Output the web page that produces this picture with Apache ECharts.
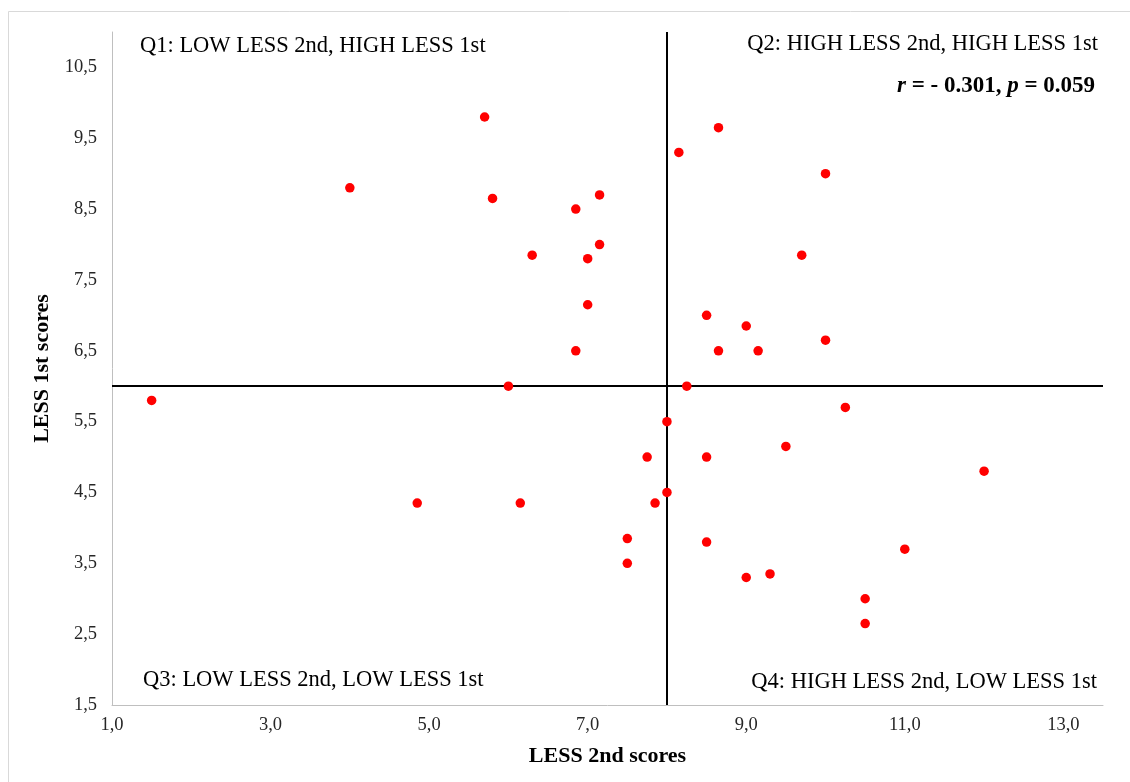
<!DOCTYPE html>
<html>
<head>
<meta charset="utf-8">
<script src="https://cdn.jsdelivr.net/npm/echarts@6/dist/echarts.min.js"></script>
<style>
html,body{margin:0;padding:0;background:#fff;}
#chart{width:1130px;height:782px;}
</style>
</head>
<body>
<div id="chart"></div>
<script>
// LESS 2nd scores (x) and LESS 1st scores (y)
var less2nd = [1.5, 4.0, 4.85, 5.7, 5.8, 6.0, 6.15, 6.3, 6.85, 6.85, 7.0, 7.0, 7.15, 7.15,
  7.5, 7.5, 7.75, 7.85, 8.0, 8.0, 8.15, 8.25, 8.5, 8.5, 8.5, 8.65, 8.65, 9.0, 9.0, 9.15,
  9.3, 9.5, 9.7, 10.0, 10.0, 10.25, 10.5, 10.5, 11.0, 12.0];
var less1st = [5.8, 8.8, 4.35, 9.8, 8.65, 6.0, 4.35, 7.85, 8.5, 6.5, 7.8, 7.15, 8.7, 8.0,
  3.85, 3.5, 5.0, 4.35, 5.5, 4.5, 9.3, 6.0, 7.0, 5.0, 3.8, 9.65, 6.5, 6.85, 3.3, 6.5,
  3.35, 5.15, 7.85, 9.0, 6.65, 5.7, 3.0, 2.65, 3.7, 4.8];
var xMedian = 8.0;
var yMedian = 6.0;
var quadrantLabels = [
  'Q1: LOW LESS 2nd, HIGH LESS 1st',
  'Q2: HIGH LESS 2nd, HIGH LESS 1st',
  'Q3: LOW LESS 2nd, LOW LESS 1st',
  'Q4: HIGH LESS 2nd, LOW LESS 1st'
];
var xName = 'LESS 2nd scores';
var yName = 'LESS 1st scores';

var points = less2nd.map(function (x, i) { return [x, less1st[i]]; });
function fmt(v) { return v.toFixed(1).replace('.', ','); }
var serif = '"Liberation Serif", "Times New Roman", serif';

var chart = echarts.init(document.getElementById('chart'), null, {renderer: 'canvas'});
var option = {
  animation: false,
  backgroundColor: '#fff',
  textStyle: {fontFamily: serif},
  grid: {left: 112, right: 27, top: 32, bottom: 77},
  xAxis: {
    type: 'value', min: 1, max: 13.5, interval: 1,
    name: xName, nameLocation: 'middle', nameGap: 40,
    nameTextStyle: {fontFamily: serif, fontWeight: 'bold', fontSize: 22, color: '#000'},
    axisLine: {show: true, lineStyle: {color: '#bfbfbf', width: 1}},
    axisTick: {show: false},
    splitLine: {show: false},
    axisLabel: {
      fontFamily: serif, fontSize: 18.5, color: '#262626', margin: 11,
      formatter: function (v) {
        var r = Math.round(v * 100) / 100;
        return (Math.abs(r - Math.round(r)) < 1e-6 && Math.round(r) % 2 === 1) ? fmt(r) : '';
      }
    }
  },
  yAxis: {
    type: 'value', min: 1.5, max: 11, interval: 0.5,
    name: yName, nameLocation: 'middle', nameGap: 53, nameRotate: 90,
    nameTextStyle: {fontFamily: serif, fontWeight: 'bold', fontSize: 22, color: '#000'},
    axisLine: {show: true, lineStyle: {color: '#bfbfbf', width: 1}},
    axisTick: {show: false},
    splitLine: {show: false},
    axisLabel: {
      fontFamily: serif, fontSize: 18.5, color: '#262626', margin: 15,
      formatter: function (v) {
        var d = Math.round((v - 1.5) * 100) / 100;
        return (Math.abs(d - Math.round(d)) < 1e-6 && v < 10.9) ? fmt(v) : '';
      }
    }
  },
  series: [{
    type: 'scatter',
    data: points,
    symbolSize: 9.5,
    itemStyle: {color: '#ff0000', opacity: 1},
    z: 5,
    markLine: {
      silent: true,
      symbol: 'none',
      label: {show: false},
      lineStyle: {color: '#000', width: 2, type: 'solid'},
      data: [{xAxis: xMedian}, {yAxis: yMedian}],
      z: 3
    }
  }],
  graphic: [
    {type: 'rect', shape: {x: 8.5, y: 11.5, width: 1140, height: 800},
      style: {fill: 'none', stroke: '#d9d9d9', lineWidth: 1}, silent: true, z: -1},
    {type: 'text', left: 140, top: 35,
      style: {text: quadrantLabels[0], font: '22.5px ' + serif, fill: '#000'}},
    {type: 'text', right: 32, top: 32.5,
      style: {text: quadrantLabels[1], font: '22.5px ' + serif, fill: '#000', textAlign: 'right'}},
    {type: 'text', left: 143, top: 669,
      style: {text: quadrantLabels[2], font: '22.5px ' + serif, fill: '#000'}},
    {type: 'text', right: 33, top: 671,
      style: {text: quadrantLabels[3], font: '22.5px ' + serif, fill: '#000', textAlign: 'right'}},
    {type: 'text', right: 35, top: 74.5,
      style: {
        text: '{i|r}{b| = - 0.301, }{i|p}{b| = 0.059}',
        rich: {
          i: {font: 'italic bold 23px ' + serif, fill: '#000'},
          b: {font: 'bold 23px ' + serif, fill: '#000'}
        },
        fill: '#000'
      }}
  ]
};
chart.setOption(option);
</script>
</body>
</html>
